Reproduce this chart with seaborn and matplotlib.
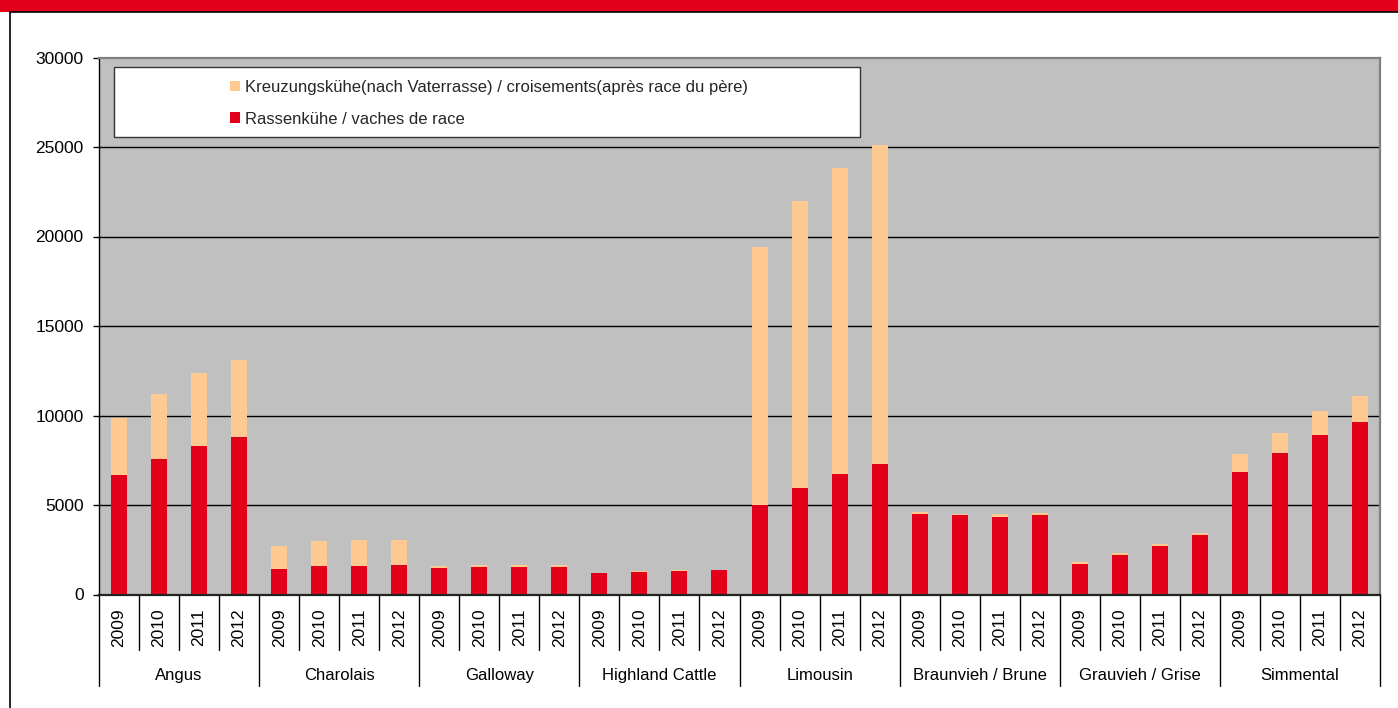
import matplotlib
matplotlib.use("Agg")
import matplotlib.pyplot as plt
from matplotlib.patches import Rectangle, Patch
import matplotlib.transforms as mtransforms
import seaborn as sns
import pandas as pd
import numpy as np

# ---------------- data ----------------
breeds = ["Angus", "Charolais", "Galloway", "Highland Cattle", "Limousin",
          "Braunvieh / Brune", "Grauvieh / Grise", "Simmental"]
years = ["2009", "2010", "2011", "2012"]

# purebred cows (red)
rassen = [6690, 7570, 8310, 8790,
          1430, 1580, 1600, 1640,
          1500, 1520, 1540, 1550,
          1180, 1270, 1310, 1350,
          4990, 5950, 6715, 7275,
          4525, 4415, 4340, 4415,
          1730, 2225, 2730, 3340,
          6865, 7900, 8885, 9610]
# cross-bred cows (peach, stacked on top)
kreuzung = [3180, 3640, 4070, 4310,
            1300, 1390, 1430, 1430,
            90, 110, 110, 110,
            35, 25, 40, 35,
            14440, 16030, 17095, 17835,
            110, 110, 130, 130,
            75, 95, 110, 110,
            960, 1150, 1340, 1465]

label_cross = "Kreuzungskühe(nach Vaterrasse) / croisements(après race du père)"
label_pure = "Rassenkühe / vaches de race"
yticks = [0, 5000, 10000, 15000, 20000, 25000, 30000]

# ---------------- table ----------------
rows = []
for bi, b in enumerate(breeds):
    for yi, y in enumerate(years):
        k = bi * len(years) + yi
        rows.append({"slot": f"{b} {y}", "breed": b, "year": y,
                     "rassen": rassen[k], "total": rassen[k] + kreuzung[k]})
df = pd.DataFrame(rows)
order = list(df["slot"])

RED = "#E2001A"
PEACH = "#FFC992"
GRAY = "#C0C0C0"

sns.set_theme(style="white")
plt.rcParams["font.family"] = ["Liberation Sans", "DejaVu Sans"]

fig = plt.figure(figsize=(13.98, 7.08), dpi=100)
fig.patch.set_facecolor("white")
ax = fig.add_axes([99 / 1398, 1 - 594.5 / 708, 1281 / 1398, 537 / 708])
ax.set_facecolor(GRAY)

sns.barplot(data=df, x="slot", y="total", order=order, color=PEACH,
            width=0.4, saturation=1, ax=ax, zorder=3, linewidth=0)
sns.barplot(data=df, x="slot", y="rassen", order=order, color=RED,
            width=0.4, saturation=1, ax=ax, zorder=4, linewidth=0)

n = len(order)
ax.set_xlim(-0.5, n - 0.5)
ax.set_ylim(0, 30000)
ax.set_yticks(yticks)
ax.set_yticklabels([str(v) for v in yticks], fontsize=12.5, color="black")
ax.tick_params(axis="y", length=4, width=1, color="black", pad=7, left=True)
ax.set_xticks([])
ax.set_xlabel("")
ax.set_ylabel("")

# gridlines
for v in yticks[1:-1]:
    ax.axhline(v, color="black", linewidth=1, zorder=1)

# spines
for s in ["top", "right"]:
    ax.spines[s].set_color("#808080")
    ax.spines[s].set_linewidth(1.6)
ax.spines["left"].set_color("black")
ax.spines["left"].set_linewidth(1)
ax.spines["bottom"].set_color("#222222")
ax.spines["bottom"].set_linewidth(1.6)
for s in ax.spines.values():
    s.set_zorder(6)

# hierarchical category axis
trans = mtransforms.blended_transform_factory(ax.transData, ax.transAxes)
for i in range(n + 1):
    x = i - 0.5
    is_group = (i % len(years) == 0)
    y_end = -0.1704 if is_group else -0.1034
    ax.plot([x, x], [0, y_end], transform=trans, color="black",
            linewidth=1, clip_on=False, zorder=5)
for i, row in df.iterrows():
    ax.text(i, -0.0615, row["year"], transform=trans, rotation=90,
            ha="center", va="center", fontsize=12.5, color="black")
for bi, b in enumerate(breeds):
    xc = bi * len(years) + (len(years) - 1) / 2
    ax.text(xc, -0.150, b, transform=trans, ha="center", va="center",
            fontsize=12, color="black")

# legend box and legend
box = Rectangle((15 / 1281, (594.5 - 137) / 537), (860 - 114) / 1281, 70 / 537,
                transform=ax.transAxes, facecolor="white", edgecolor="#333333",
                linewidth=1, zorder=7)
ax.add_patch(box)
handles = [Patch(facecolor=PEACH, edgecolor="none"),
           Patch(facecolor=RED, edgecolor="none")]
leg = ax.legend(handles, [label_cross, label_pure], loc="upper left",
                bbox_to_anchor=((230 - 99) / 1281, (594.5 - 80) / 537),
                frameon=False, fontsize=12, handlelength=0.6, handleheight=0.6,
                handletextpad=0.3, labelspacing=1.0, borderpad=0,
                borderaxespad=0)
leg.set_zorder(8)

# top red banner and outer frame
fig.patches.append(Rectangle((0, 1 - 12 / 708), 1, 12 / 708, transform=fig.transFigure,
                             facecolor=RED, edgecolor="none", zorder=0))
fig.lines.append(plt.Line2D([10 / 1398, 10 / 1398], [0, 1 - 12 / 708],
                            transform=fig.transFigure, color="black", linewidth=1.2))
fig.lines.append(plt.Line2D([10 / 1398, 1], [1 - 12 / 708, 1 - 12 / 708],
                            transform=fig.transFigure, color="black", linewidth=1.2))

fig.savefig("out.png", dpi=100, facecolor="white")
